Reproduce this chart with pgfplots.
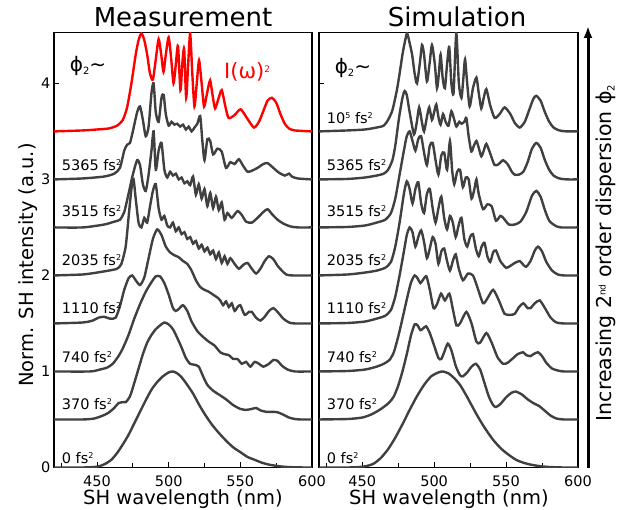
\documentclass[border=0pt]{standalone}
\usepackage{fontspec}
\setmainfont{DejaVu Sans}
\usepackage{pgfplots}
\pgfplotsset{compat=1.18}
\usetikzlibrary{arrows.meta}
\definecolor{cgray}{RGB}{64,64,64}
\newcommand{\sqr}{\raisebox{5.5pt}{\fontsize{8}{8}\selectfont 2}}
\newcommand{\sups}[1]{\raisebox{6pt}{\fontsize{9}{9}\selectfont #1}}
\newcommand{\subs}[1]{\raisebox{-3pt}{\fontsize{10}{10}\selectfont #1}}

\begin{document}
\begin{tikzpicture}[x=1pt,y=1pt]
\useasboundingbox (0,0) rectangle (626,510);
\pgfplotsset{
  panel/.style={
    at={(#1pt,42.5pt)}, anchor=south west, scale only axis,
    width=258pt, height=435pt,
    xmin=420, xmax=600, ymin=0, ymax=4.53,
    xtick={450,500,550,600}, minor xtick={425,475,525,575},
    ytick={0,1,2,3,4},
    tick align=inside, xtick pos=bottom, ytick pos=left,
    major tick length=5pt, minor tick length=4pt,
    axis line style={line width=1.5pt},
    tick style={black, line width=1pt},
    tick label style={font=\fontsize{14.5}{16}\selectfont},
    xticklabel style={yshift=-4.5pt},
    /pgf/number format/assume math mode=true,
  },
  cv/.style={cgray, line width=2.4pt, smooth, tension=0.4, mark=none},
}
\tikzset{lab/.style={anchor=west, font=\fontsize{14.5}{16}\selectfont}}

% ---------------- Measurement ----------------
\begin{axis}[panel=54]
\addplot[cv] coordinates {(420,0)(440,0)(448,0.005)(452,0.015)(456,0.04)(460,0.08)(464,0.15)(468,0.24)(472,0.34)(476,0.46)(480,0.58)(484,0.70)(488,0.81)(492,0.89)(496,0.95)(500,0.99)(503,1.0)(506,0.98)(509,0.94)(513,0.86)(517,0.77)(521,0.66)(525,0.56)(530,0.45)(535,0.36)(540,0.28)(545,0.21)(550,0.16)(555,0.11)(560,0.08)(565,0.05)(570,0.03)(576,0.015)(582,0.006)(590,0.001)(600,0)};
\addplot[cv] coordinates {(420,0.5)(440,0.5)(448,0.51)(454,0.54)(458,0.57)(462,0.62)(465,0.67)(468,0.68)(470,0.68)(473,0.74)(476,0.88)(479,1.03)(482,1.18)(485,1.30)(488,1.38)(491,1.44)(494,1.48)(497,1.51)(500,1.49)(503,1.44)(506,1.35)(509,1.25)(512,1.14)(515,1.08)(518,1.07)(521,1.05)(524,0.95)(527,0.86)(531,0.80)(535,0.76)(540,0.71)(545,0.65)(550,0.61)(554,0.60)(558,0.61)(561,0.62)(564,0.595)(568,0.58)(572,0.58)(576,0.575)(580,0.55)(584,0.52)(588,0.505)(592,0.5)(600,0.5)};
\addplot[cv] coordinates {(420,1.0)(445,1.0)(452,1.02)(457,1.04)(461,1.08)(465,1.16)(468,1.24)(472,1.38)(476,1.55)(480,1.70)(484,1.83)(488,1.93)(491,1.99)(494,1.99)(497,1.92)(500,1.80)(503,1.66)(505,1.63)(507,1.65)(510,1.69)(513,1.63)(516,1.52)(520,1.42)(524,1.36)(528,1.31)(532,1.27)(536,1.20)(539,1.18)(542,1.17)(545,1.13)(548,1.13)(551,1.08)(554,1.10)(557,1.05)(560,1.10)(563,1.08)(566,1.05)(570,1.08)(573,1.12)(576,1.11)(579,1.06)(583,1.02)(588,1.0)(600,1.0)};
\addplot[cv] coordinates {(420,1.5)(440,1.51)(447,1.53)(451,1.56)(455,1.57)(459,1.55)(463,1.56)(466,1.68)(469,1.85)(472,1.97)(474.5,2.0)(477,1.95)(480,1.90)(483,1.98)(486,2.18)(489,2.38)(492,2.48)(495,2.42)(498,2.3)(501,2.24)(504,2.21)(507,2.19)(510,2.15)(513,2.12)(516,2.05)(519,1.95)(522,1.88)(525,1.85)(528,1.83)(531,1.80)(534,1.77)(536,1.74)(538,1.69)(540,1.73)(542,1.67)(544,1.71)(546,1.63)(548,1.67)(550,1.69)(553,1.59)(556,1.62)(558,1.62)(561,1.56)(564,1.53)(567,1.57)(570,1.63)(573,1.66)(576,1.62)(580,1.55)(584,1.51)(588,1.5)(600,1.5)};
\addplot[cv] coordinates {(420,2.0)(440,2.01)(450,2.03)(458,2.05)(464,2.07)(467,2.12)(470,2.3)(472,2.6)(474,2.9)(475.5,3.0)(477,2.8)(479,2.55)(481,2.5)(483,2.6)(485,2.55)(487,2.72)(489,2.88)(491,2.95)(493,2.7)(495,2.58)(497,2.62)(499,2.52)(501,2.5)(503,2.55)(505,2.46)(507,2.5)(509,2.43)(511,2.45)(513,2.38)(515,2.4)(517,2.33)(519,2.36)(521,2.28)(523,2.32)(525,2.25)(527,2.29)(529,2.22)(531,2.26)(533,2.17)(535,2.24)(537,2.13)(539,2.2)(541,2.12)(543,2.18)(546,2.12)(549,2.07)(552,2.11)(555,2.13)(558,2.07)(561,2.02)(564,2.07)(567,2.15)(570,2.2)(573,2.17)(576,2.1)(579,2.05)(582,2.01)(586,2.0)(600,2.0)};
\addplot[cv] coordinates {(420,2.5)(440,2.5)(455,2.53)(462,2.56)(466,2.58)(469,2.66)(472,2.85)(475,3.05)(478,3.2)(480,3.15)(482,2.95)(484,2.88)(486,3.05)(488,3.3)(489.5,3.5)(491,3.1)(493,3.3)(495,3.38)(497,3.1)(499,3.02)(501,3.08)(503,3.04)(505,3.06)(507,3.0)(509,3.02)(511,2.96)(513,2.98)(515,2.94)(517,3.03)(519,2.84)(521,2.95)(523,2.8)(525,2.9)(527,2.72)(529,2.86)(531,2.7)(533,2.82)(535,2.68)(537,2.76)(539,2.58)(541,2.65)(544,2.6)(548,2.67)(551,2.63)(554,2.56)(558,2.55)(562,2.6)(566,2.66)(569,2.69)(572,2.64)(576,2.58)(580,2.54)(585,2.51)(590,2.5)(600,2.5)};
\addplot[cv] coordinates {(420,3.0)(440,3.01)(455,3.03)(462,3.06)(466,3.12)(469,3.3)(471,3.36)(473,3.38)(475,3.5)(478,3.7)(480,3.76)(482,3.62)(484,3.45)(486,3.55)(488,3.9)(489.5,4.0)(491,3.7)(493,3.6)(495,3.85)(496.5,3.88)(498,3.68)(500,3.56)(502,3.6)(504,3.57)(506,3.58)(508,3.55)(510,3.57)(512,3.52)(514,3.55)(516,3.5)(518,3.54)(520,3.58)(522,3.66)(523.5,3.4)(525,3.2)(527,3.42)(529,3.4)(531,3.26)(534,3.32)(537,3.29)(540,3.12)(543,3.18)(546,3.16)(549,3.21)(552,3.14)(555,3.08)(558,3.09)(562,3.12)(566,3.16)(569,3.17)(573,3.12)(577,3.07)(581,3.04)(584,3.06)(586,3.03)(590,3.01)(600,3.0)};
\addplot[red, line width=2.4pt, smooth, tension=0.4, mark=none] coordinates {(420,3.5)(440,3.51)(450,3.52)(458,3.53)(464,3.56)(468,3.62)(471,3.75)(474,4.0)(477,4.3)(479,4.45)(481,4.52)(483,4.45)(485,4.3)(487,4.1)(489,4.04)(491,4.25)(493,4.46)(494.8,4.3)(496.4,4.12)(498,4.3)(500,4.48)(501.8,4.25)(503.4,4.0)(505,4.2)(506.5,4.39)(508.2,3.93)(509.5,4.2)(510.8,4.36)(512.2,3.85)(513.6,4.2)(515,4.52)(516.5,4.1)(518,3.76)(519.6,4.0)(521.2,4.24)(523,4.0)(524.7,3.76)(526.8,3.9)(528.9,4.03)(530.6,3.88)(532.4,3.74)(534.7,3.84)(537,3.93)(539.4,3.77)(541.8,3.64)(546,3.67)(550.2,3.73)(555,3.63)(559.5,3.54)(563,3.6)(566,3.71)(569,3.82)(572,3.85)(575,3.8)(578,3.68)(581,3.58)(584,3.53)(588,3.51)(600,3.5)};
\node[lab] at (axis cs:423,0.10) {0 fs\sqr};
\node[lab] at (axis cs:423,0.66) {370 fs\sqr};
\node[lab] at (axis cs:423,1.15) {740 fs\sqr};
\node[lab] at (axis cs:423,1.66) {1110 fs\sqr};
\node[lab] at (axis cs:423,2.16) {2035 fs\sqr};
\node[lab] at (axis cs:423,2.67) {3515 fs\sqr};
\node[lab] at (axis cs:423,3.15) {5365 fs\sqr};
\node[font=\fontsize{20}{24}\selectfont] at (axis cs:443.7,4.18) {ϕ\subs{2}∼};
\node[red, font=\fontsize{21}{24}\selectfont] at (axis cs:554.7,4.12) {I(ω)\sups{2}};
\end{axis}

% ---------------- Simulation ----------------
\begin{axis}[panel=319, width=259pt, yticklabels={}]
\addplot[cv] coordinates {(420,0)(440,0)(448,0.005)(453,0.015)(458,0.04)(463,0.1)(468,0.19)(473,0.31)(478,0.45)(483,0.6)(488,0.74)(493,0.86)(498,0.95)(503,0.99)(506,1.0)(510,0.98)(514,0.93)(518,0.86)(522,0.76)(526,0.65)(530,0.54)(534,0.44)(538,0.35)(542,0.27)(547,0.19)(552,0.13)(557,0.08)(562,0.05)(567,0.03)(573,0.015)(580,0.005)(590,0)(600,0)};
\addplot[cv] coordinates {(420,0.5)(440,0.505)(450,0.52)(456,0.55)(461,0.59)(465,0.63)(469,0.68)(472,0.74)(475,0.85)(478,1.0)(481,1.18)(484,1.38)(486.5,1.49)(488.5,1.48)(490.5,1.43)(492.5,1.45)(494.5,1.47)(497,1.4)(500,1.27)(503,1.14)(505,1.13)(507,1.2)(509.5,1.29)(512,1.22)(515,1.06)(518,0.96)(520,0.95)(523,0.99)(526,1.05)(529,1.08)(532,1.02)(535,0.88)(538,0.74)(541,0.65)(543,0.63)(546,0.66)(550,0.73)(554,0.78)(557,0.79)(561,0.76)(565,0.71)(569,0.67)(573,0.64)(577,0.59)(581,0.54)(585,0.51)(590,0.5)(600,0.5)};
\addplot[cv] coordinates {(420,1.0)(440,1.005)(452,1.02)(460,1.05)(465,1.08)(469,1.12)(472,1.2)(475,1.36)(478,1.55)(481,1.75)(484,1.93)(486.5,2.0)(488.5,1.97)(490.5,1.92)(492.5,1.96)(494.7,1.99)(497,1.85)(499.6,1.66)(502,1.7)(504.8,1.81)(507.5,1.74)(510.6,1.81)(513,1.65)(515.5,1.48)(518,1.5)(522.4,1.62)(526,1.5)(529.4,1.31)(532,1.3)(536.3,1.40)(540,1.3)(544,1.15)(547.9,1.08)(551,1.09)(555,1.14)(558,1.18)(561.8,1.2)(564,1.17)(567,1.16)(569,1.18)(572.2,1.2)(575,1.16)(578,1.09)(582,1.03)(586,1.01)(590,1.0)(600,1.0)};
\addplot[cv] coordinates {(420,1.5)(440,1.505)(452,1.52)(460,1.55)(466,1.58)(470,1.64)(473,1.78)(476,2.0)(479,2.25)(481,2.42)(483,2.5)(485,2.45)(487,2.3)(489,2.4)(491,2.47)(493,2.35)(495,2.18)(497,2.28)(499,2.4)(501,2.33)(503,2.12)(505,2.25)(507,2.28)(509,2.15)(511,2.05)(513,2.15)(515,2.22)(517,2.08)(520,1.95)(523.5,2.02)(527,2.0)(530,1.88)(534,1.71)(537,1.76)(541,1.85)(545,1.74)(549,1.6)(553,1.59)(556,1.6)(559,1.67)(562,1.71)(565,1.66)(567,1.66)(570,1.71)(573.4,1.74)(577,1.66)(581,1.56)(585,1.51)(590,1.5)(600,1.5)};
\addplot[cv] coordinates {(420,2.0)(440,2.01)(452,2.03)(460,2.05)(466,2.08)(470,2.14)(473,2.3)(476,2.55)(479,2.85)(481,2.98)(483,2.9)(485,2.75)(487,2.9)(489,2.97)(491,2.75)(493,2.65)(495,2.85)(497,2.9)(499,2.7)(501,2.55)(503,2.7)(505,2.82)(507,2.6)(509,2.48)(511,2.62)(513,2.55)(515,2.4)(517,2.52)(519,2.6)(521,2.38)(523,2.3)(525,2.4)(527,2.43)(529,2.28)(531,2.2)(533,2.3)(535,2.34)(537,2.2)(539,2.14)(541,2.24)(543,2.26)(546,2.15)(550,2.08)(553,2.1)(556,2.13)(559.5,2.15)(562,2.11)(564,2.09)(567,2.15)(570,2.26)(572.2,2.3)(575,2.25)(578,2.14)(582,2.05)(586,2.01)(590,2.0)(600,2.0)};
\addplot[cv] coordinates {(420,2.5)(440,2.505)(452,2.52)(460,2.55)(466,2.58)(470,2.65)(473,2.8)(476,3.05)(479,3.3)(481,3.45)(483,3.5)(485,3.4)(487,3.3)(489,3.42)(491,3.45)(493,3.28)(495,3.15)(497,3.35)(499,3.38)(501,3.2)(503,3.05)(505,3.25)(507,3.28)(509,3.1)(511,3.4)(512.5,3.1)(514,2.95)(516,3.08)(518,3.1)(520,2.92)(522,3.02)(524,3.0)(526,2.8)(528,2.9)(529.4,3.0)(531,2.85)(534,2.69)(537,2.74)(540,2.72)(543,2.57)(546,2.62)(548,2.6)(552,2.53)(556,2.53)(560,2.56)(564,2.66)(568,2.83)(571,2.88)(574,2.82)(577,2.68)(580,2.57)(584,2.52)(588,2.5)(600,2.5)};
\addplot[cv] coordinates {(420,3.0)(440,3.005)(452,3.02)(460,3.04)(465,3.06)(468,3.1)(471,3.2)(473,3.35)(475.6,3.64)(478,3.85)(479.5,3.92)(481,3.88)(483,3.7)(486,3.47)(488,3.6)(489.6,3.75)(491.5,3.6)(493,3.5)(495,3.65)(496.6,3.75)(498.5,3.62)(500,3.7)(501.5,3.78)(503,3.65)(504.5,3.57)(506.2,3.68)(508,3.6)(510,3.56)(512,3.71)(514,3.62)(515.5,3.55)(517.5,3.6)(519,3.58)(521,3.6)(522.4,3.64)(524,3.45)(525.9,3.29)(527.6,3.35)(529.4,3.4)(531,3.33)(532.8,3.24)(534.5,3.3)(536.3,3.37)(539,3.27)(542,3.15)(545,3.16)(547.9,3.2)(551,3.16)(554,3.08)(556,3.05)(559,3.05)(562,3.08)(565,3.18)(568,3.32)(571,3.38)(574,3.33)(577,3.2)(580,3.1)(583,3.04)(587,3.01)(592,3.0)(600,3.0)};
\addplot[cv] coordinates {(420,3.5)(440,3.51)(452,3.52)(460,3.54)(465,3.56)(468,3.62)(471,3.72)(474,3.92)(476,4.1)(478,4.3)(479.5,4.42)(481.2,4.52)(483,4.42)(484.7,4.3)(486.5,4.1)(488.1,4.0)(490,4.2)(491.6,4.4)(493,4.3)(495,4.02)(496.8,4.2)(498.5,4.4)(500.5,4.2)(502,3.95)(503.3,4.1)(504.5,4.3)(506,4.05)(507.5,3.95)(509,4.2)(510.5,4.38)(512,4.0)(513.5,3.9)(515.4,4.52)(517.2,4.0)(519,3.85)(520.3,4.05)(521.5,4.25)(523,4.0)(524.7,3.76)(527,3.95)(529.4,4.06)(531,3.9)(532.8,3.74)(534.5,3.85)(536.3,3.94)(539,3.77)(542.1,3.64)(545.5,3.68)(549,3.75)(553,3.68)(556,3.59)(559.5,3.54)(563,3.6)(566,3.72)(569,3.84)(571,3.87)(574,3.82)(577,3.7)(580,3.6)(583,3.54)(587,3.51)(592,3.5)(600,3.5)};
\node[lab] at (axis cs:423,0.10) {0 fs\sqr};
\node[lab] at (axis cs:423,0.66) {370 fs\sqr};
\node[lab] at (axis cs:423,1.15) {740 fs\sqr};
\node[lab] at (axis cs:423,1.66) {1110 fs\sqr};
\node[lab] at (axis cs:423,2.16) {2035 fs\sqr};
\node[lab] at (axis cs:423,2.67) {3515 fs\sqr};
\node[lab] at (axis cs:423,3.15) {5365 fs\sqr};
\node[lab] at (axis cs:423,3.64) {10\raisebox{5.5pt}{\fontsize{8}{8}\selectfont 5} fs\sqr};
\node[font=\fontsize{20}{24}\selectfont] at (axis cs:443.6,4.16) {ϕ\subs{2}∼};
\end{axis}

% titles, axis labels and the dispersion arrow
\node[anchor=base, font=\fontsize{26}{30}\selectfont] at (183,483) {Measurement};
\node[anchor=base, font=\fontsize{26}{30}\selectfont] at (457,483) {Simulation};
\node[anchor=base, font=\fontsize{19.5}{22}\selectfont] at (183,5) {SH wavelength (nm)};
\node[anchor=base, font=\fontsize{19.5}{22}\selectfont] at (449,5) {SH wavelength (nm)};
\node[anchor=base, rotate=90, font=\fontsize{19.5}{22}\selectfont] at (33,245) {Norm. SH intensity (a.u.)};
\draw[line width=3pt, -{Latex[length=12pt,width=9pt]}] (588,42) -- (588,484);
\node[anchor=base, rotate=90, font=\fontsize{20.5}{24}\selectfont] at (611.5,257) {Increasing 2\sups{nd} order dispersion ϕ\subs{2}};
\end{tikzpicture}
\end{document}
